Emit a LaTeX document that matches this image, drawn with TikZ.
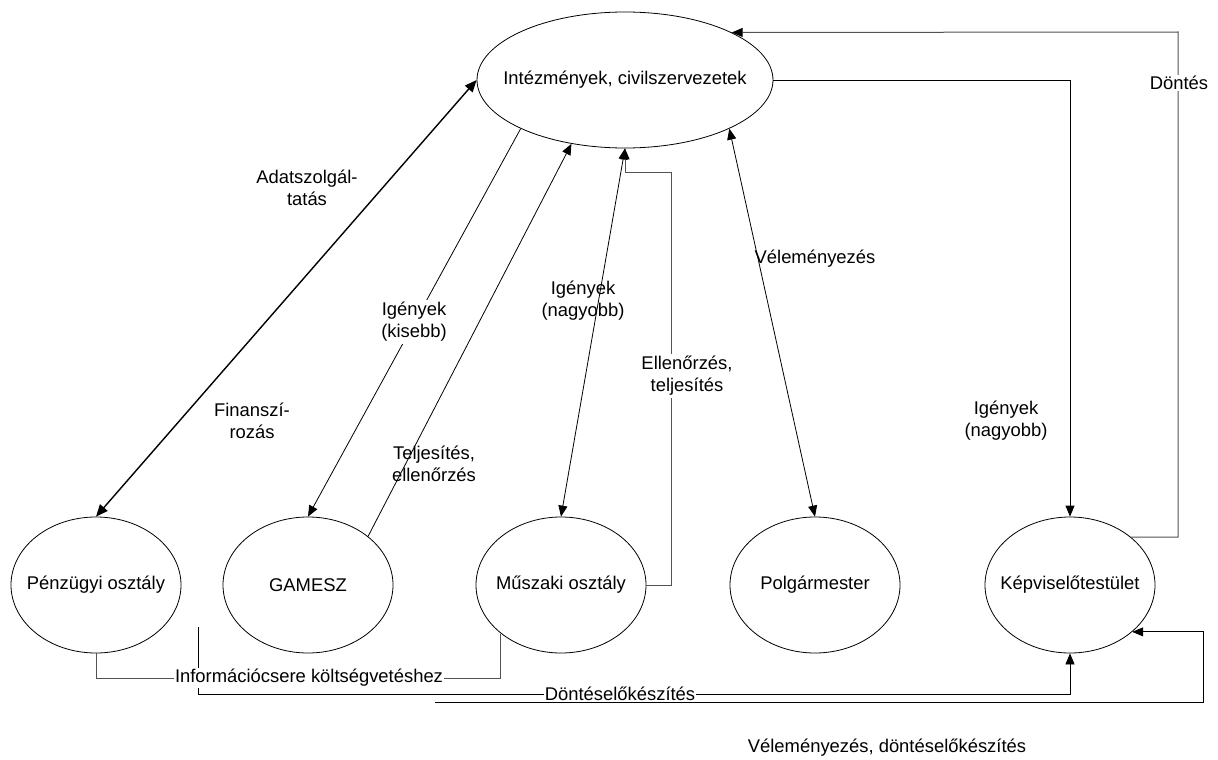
\documentclass[tikz,border=0pt]{standalone}
\usepackage{fontspec}
\setmainfont{Liberation Sans}
\usetikzlibrary{shapes.geometric,arrows.meta}
\begin{document}
\begin{tikzpicture}[x=1pt,y=-1pt,
  font=\fontsize{18.4}{22}\selectfont,
  ell/.style={draw, ellipse, inner sep=0pt, line width=0.8pt},
  bigell/.style={ell, minimum width=296pt, minimum height=136pt},
  smallell/.style={ell, minimum width=170pt, minimum height=136pt},
  con/.style={line width=0.8pt, draw=black},
  gcon/.style={line width=1pt, draw=black!68},
  tipend/.style={-{Triangle[length=11pt,width=9pt,black]}},
  tipboth/.style={{Triangle[length=11pt,width=9pt,black]}-{Triangle[length=11pt,width=9pt,black]}},
  lbl/.style={align=center, inner sep=1pt},
  wlbl/.style={lbl, fill=white, inner sep=2pt}
]
\useasboundingbox (0,0) rectangle (1218,760);

% nodes
\node[bigell] (int) at (625,80) {\makebox[0pt]{Intézmények, civilszervezetek}};
\node[smallell] (pen) at (96,585) {\makebox[0pt]{Pénzügyi osztály}};
\node[smallell] (gam) at (308,585) {\makebox[0pt]{GAMESZ}};
\node[smallell] (mus) at (561,585) {\makebox[0pt]{Műszaki osztály}};
\node[smallell] (pol) at (815,585) {\makebox[0pt]{Polgármester}};
\node[smallell] (kep) at (1070,585) {\makebox[0pt]{Képviselőtestület}};

% helper coordinates
\coordinate (e1) at (671,172);
\coordinate (d1) at (1178,32);
\coordinate (d0) at (198,627);
\coordinate (d0b) at (198,694);
\coordinate (v0) at (435,702);
\coordinate (v1) at (1203,702);

% Pénzügyi <-> Intézmények
\draw[line width=1.4pt, {Triangle[length=12pt,width=10pt]}-{Triangle[length=12pt,width=10pt]}] (pen.north) -- (int.west);
% Intézmények -> GAMESZ
\draw[con, tipend] (int.205.5) -- (gam.north);
% GAMESZ -> Intézmények
\draw[con, tipend] (gam.39.8) -- (int.230);
% Intézmények <-> Műszaki
\draw[con, tipboth] (int.south) -- (mus.north);
% Műszaki -> Intézmények (Ellenőrzés)
\draw[gcon, tipend] (mus.east) -| (e1) -| (int.south);
% Intézmények <-> Polgármester
\draw[con, tipboth] (int.335) -- (pol.north);
% Intézmények -> Képviselő
\draw[con, tipend] (int.east) -| (kep.north);
% Képviselő -> Intézmények (Döntés)
\draw[gcon, tipend] (kep.38.7) -| (d1) -- (int.24);
% Pénzügyi/Műszaki Információcsere
\draw[gcon] (pen.south) -- (pen.south |- 0,678) -- (mus.219 |- 0,678) -- (mus.219);
% Döntéselőkészítés
\draw[con, tipend] (d0) -- (d0b) -| (kep.south);
% Véleményezés, döntéselőkészítés
\draw[con, tipend] (v0) -- (v1) |- (kep.-37.7);

% labels
\node[lbl] (l1) at (307,188) {Adatszolgál-\\tatás};
\node[lbl] (l2) at (252,421) {Finanszí-\\rozás};
\node[wlbl] (l3) at (414,322) {Igények\\(kisebb)};
\node[lbl] (l4) at (434,464) {Teljesítés,\\ellenőrzés};
\node[lbl] (l5) at (583,301) {Igények\\(nagyobb)};
\node[wlbl] (l6) at (687,376) {Ellenőrzés,\\teljesítés};
\node[lbl] (l7) at (815,259) {Véleményezés};
\node[lbl] (l8) at (1006,421) {Igények\\(nagyobb)};
\node[wlbl, inner sep=1pt] (l9) at (1179,83) {Döntés};
\node[wlbl, inner sep=1pt] (l10) at (309,678) {Információcsere költségvetéshez};
\node[wlbl, inner sep=1pt] (l11) at (620,694) {Döntéselőkészítés};
\node[lbl] (l12) at (887,748) {Véleményezés, döntéselőkészítés};
\end{tikzpicture}
\end{document}
